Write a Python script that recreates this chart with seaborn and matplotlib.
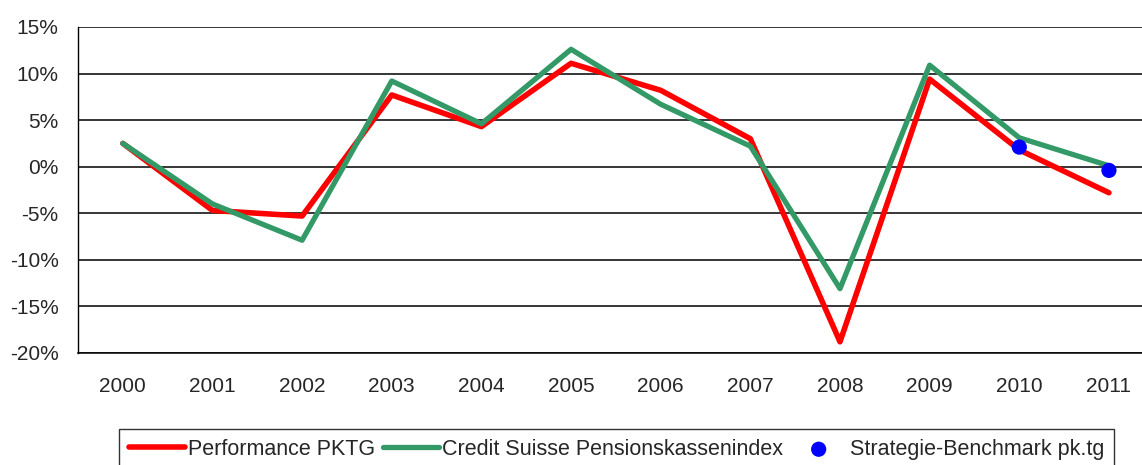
import numpy as np
import pandas as pd
import matplotlib
matplotlib.use("Agg")
import matplotlib.pyplot as plt
import seaborn as sns
from matplotlib.ticker import FuncFormatter, FixedLocator

# values (percent)
years = ['2000', '2001', '2002', '2003', '2004', '2005',
         '2006', '2007', '2008', '2009', '2010', '2011']
performance_pktg = [2.5, -4.7, -5.3, 7.7, 4.3, 11.1, 8.2, 3.0, -18.8, 9.4, 1.8, -2.8]
cs_index = [2.5, -4.0, -7.9, 9.2, 4.6, 12.6, 6.7, 2.2, -13.1, 10.9, 3.1, 0.1]
bench_years = ['2010', '2011']
benchmark = [2.1, -0.4]

df = pd.DataFrame({'year': years, 'pktg': performance_pktg, 'cs': cs_index})
df_b = pd.DataFrame({'year': bench_years, 'bench': benchmark})

sns.set_style("white")
plt.rcParams['font.family'] = ['Liberation Sans', 'DejaVu Sans']

fig = plt.figure(figsize=(11.42, 4.65), dpi=100)
ax = fig.add_axes([0.0683, 0.241, 0.942, 0.701])

# gridlines first so the lines sit on top
ax.set_ylim(-20, 15)
ax.set_yticks(np.arange(-20, 16, 5))
ax.yaxis.grid(True, color='black', linewidth=1.1)
ax.set_axisbelow(True)

sns.lineplot(data=df, x='year', y='pktg', ax=ax, color='#FF0000', linewidth=4.0,
             label='Performance PKTG', sort=False)
sns.lineplot(data=df, x='year', y='cs', ax=ax, color='#339966', linewidth=3.8,
             label='Credit Suisse Pensionskassenindex', sort=False)
sns.scatterplot(data=df_b, x='year', y='bench', ax=ax, color='#0000FF', s=120,
                edgecolor='none', label='Strategie-Benchmark pk.tg', zorder=5)

ax.set_xlim(-0.5, len(years) - 0.5)
ax.set_xlabel('')
ax.set_ylabel('')
ax.yaxis.set_major_formatter(FuncFormatter(lambda v, p: '%d%%' % v))

# Excel style: ticks between categories, labels centered
ax.xaxis.set_minor_locator(FixedLocator(np.arange(-0.5, len(years), 1.0)))
ax.tick_params(axis='x', which='major', length=0, pad=17, labelsize=15)
ax.tick_params(axis='x', which='minor', length=6, width=1, color='black', direction='out')
ax.tick_params(axis='y', which='major', length=6, width=1, color='black', direction='out',
               pad=8, labelsize=15)

for side in ['top', 'right']:
    ax.spines[side].set_visible(False)
ax.spines['left'].set_color('black')
ax.spines['bottom'].set_color('black')
ax.spines['left'].set_linewidth(1)
ax.spines['bottom'].set_linewidth(1.1)

handles, labels = ax.get_legend_handles_labels()
ax.get_legend().remove()
leg = fig.legend(handles, labels, loc='upper center', bbox_to_anchor=(0.54, 0.077),
                 ncol=3, frameon=True, fancybox=False, edgecolor='black',
                 fontsize=15.5, handlelength=2.6, handletextpad=0.15,
                 columnspacing=0.35, borderpad=0.45, borderaxespad=0)
leg.get_frame().set_linewidth(1)

fig.savefig('out.png', dpi=100)
